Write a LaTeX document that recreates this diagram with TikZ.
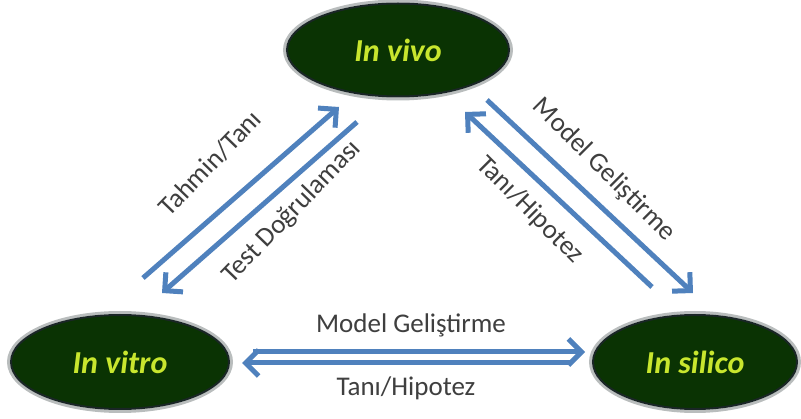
\documentclass[tikz,border=0pt]{standalone}
\usepackage{fontspec}
\setmainfont{Carlito}
\usetikzlibrary{shapes.geometric,arrows.meta}
\definecolor{cellgreen}{HTML}{0A3303}
\definecolor{cellrim}{HTML}{1A2626}
\definecolor{celltext}{HTML}{C8E62E}
\definecolor{flowblue}{HTML}{4F81BD}
\definecolor{labelgray}{HTML}{3F3F3F}
\begin{document}
\begin{tikzpicture}[x=1pt,y=-1pt,
  cell/.style={ellipse,fill=cellgreen,draw=cellrim,line width=2pt,inner sep=0pt,
    text=celltext,font=\fontsize{32}{36}\selectfont\bfseries\itshape},
  halo/.style={ellipse,draw=cellrim,line width=3pt,draw opacity=0.3,inner sep=0pt},
  flow/.style={draw=flowblue,line width=5pt,
    -{Straight Barb[length=13pt,width=26pt,line width=5pt]}},
  lbl/.style={text=labelgray,font=\fontsize{27}{31}\selectfont,inner sep=0pt}]
\useasboundingbox (0,0) rectangle (801,419);
\fill[white] (0,0) rectangle (801,419);

% soft rims around the three stages
\node[halo,minimum width=227pt,minimum height=98pt] at (398,50) {};
\node[halo,minimum width=223pt,minimum height=99pt] at (120,362) {};
\node[halo,minimum width=209pt,minimum height=99pt] at (695,362) {};

% stages
\node[cell,minimum width=222pt,minimum height=93pt] (vivo) at (398,50) {In vivo};
\node[cell,minimum width=218pt,minimum height=94pt] (vitro) at (120,362) {In vitro};
\node[cell,minimum width=204pt,minimum height=94pt] (silico) at (695,362) {In silico};

% arrow end points
\coordinate (tt0) at (143,278);  \coordinate (tt1) at (339,107);
\coordinate (td0) at (357,122);  \coordinate (td1) at (162,293);
\coordinate (mr0) at (487,100);  \coordinate (mr1) at (693,293);
\coordinate (hr0) at (652,287);  \coordinate (hr1) at (465,112);
\coordinate (mb0) at (253,352);  \coordinate (mb1) at (585,352);
\coordinate (hb0) at (572,363);  \coordinate (hb1) at (242,363);

% flows between stages
\draw[flow] (tt0) -- (tt1);
\draw[flow] (td0) -- (td1);
\draw[flow] (mr0) -- (mr1);
\draw[flow] (hr0) -- (hr1);
\draw[flow] (mb0) -- (mb1);
\draw[flow] (hb0) -- (hb1);

% flow labels
\node[lbl,rotate=46] (ltt) at (210,163) {Tahmin/Tanı};
\node[lbl,rotate=46] (ltd) at (292,212) {Test Doğrulaması};
\node[lbl,rotate=-45] (lmr) at (604,170) {Model Geliştirme};
\node[lbl,rotate=-45] (lhr) at (530,210) {Tanı/Hipotez};
\node[lbl] (lmb) at (411,325) {Model Geliştirme};
\node[lbl] (lhb) at (406,388) {Tanı/Hipotez};
\end{tikzpicture}
\end{document}
